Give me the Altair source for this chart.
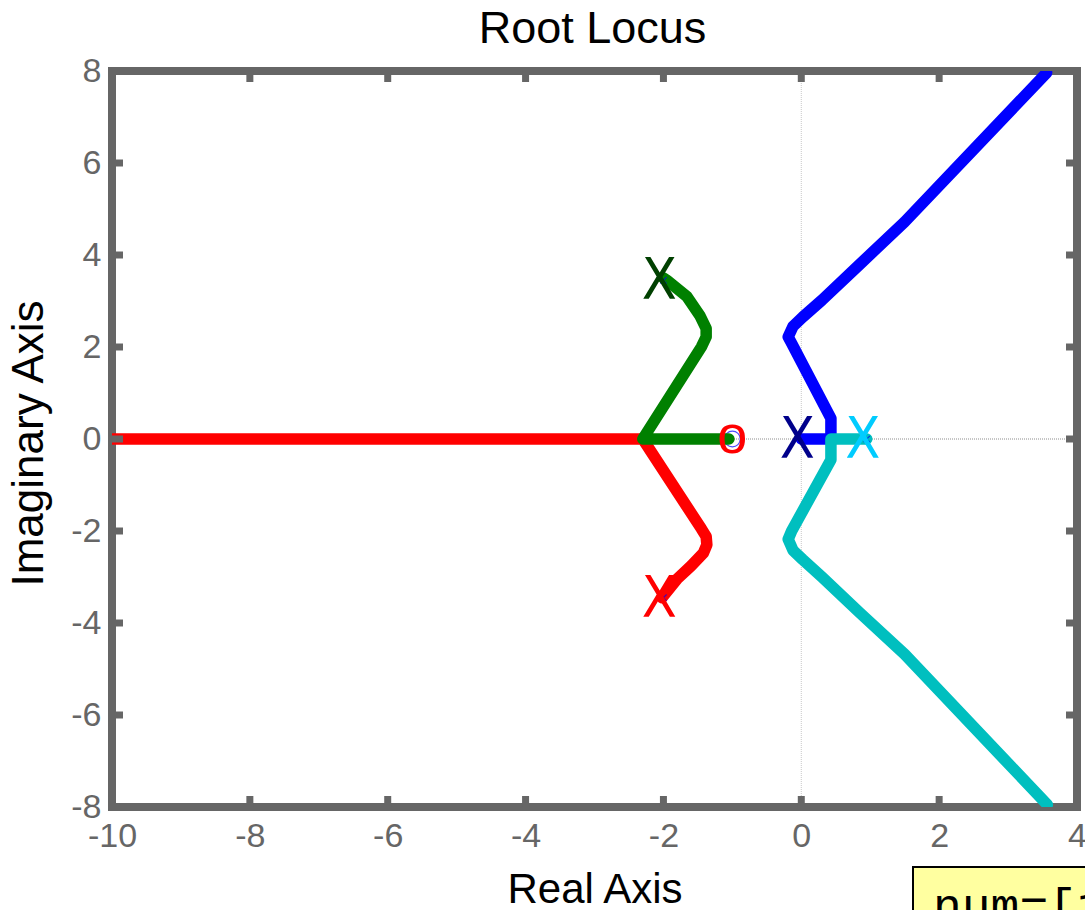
import altair as alt
import pandas as pd

# ---- root-locus branches (real part, imaginary part) ----
red_re = [-2.02, -1.80, -1.60, -1.42, -1.37, -1.38, -1.45, -2.30, -10.0]
red_im = [-3.45, -3.04, -2.76, -2.48, -2.30, -2.12, -1.95, 0.0, 0.0]

green_re = [-2.00, -1.95, -1.66, -1.47, -1.38, -1.38, -1.45, -2.30, -1.05]
green_im = [3.50, 3.45, 3.10, 2.68, 2.40, 2.22, 2.00, 0.0, 0.0]

blue_re = [0.0, 0.43, 0.43, -0.13, -0.19, -0.12, 0.02, 0.30, 0.85, 1.50, 3.56]
blue_im = [0.0, 0.0, 0.45, 2.05, 2.22, 2.45, 2.65, 3.02, 3.80, 4.72, 7.96]

cyan_re = [0.95, 0.43, 0.43, -0.14, -0.19, -0.12, 0.02, 0.30, 0.85, 1.50, 3.57]
cyan_im = [0.0, 0.0, -0.45, -2.00, -2.18, -2.42, -2.62, -3.00, -3.78, -4.68, -7.95]

branch_names = ["b1", "b2", "b3", "b4"]
branch_colors = ["#ff0000", "#008000", "#0000ff", "#00bfbf"]

# ---- open-loop poles and zero ----
pole_re = [-2.0, -2.0, 0.0, 0.95]
pole_im = [3.45, -3.45, 0.0, 0.0]
pole_colors = ["#004000", "#ff0000", "#00008b", "#00ccff"]
zero_re = [-1.0]
zero_im = [0.0]

# ---- axes ----
x_ticks = [-10, -8, -6, -4, -2, 0, 2, 4]
y_ticks = [-8, -6, -4, -2, 0, 2, 4, 6, 8]
x_inner = [-8, -6, -4, -2, 0, 2]
y_inner = [-6, -4, -2, 0, 2, 4, 6]

title_text = ["Root Locus"]
note_text = ["num=[1 1];"]

W, H = 965, 736
FONT = "Liberation Sans"
GRAY = "#666666"

rows = []
for name, re_, im_ in zip(branch_names, [red_re, green_re, blue_re, cyan_re],
                          [red_im, green_im, blue_im, cyan_im]):
    for i, (a, b) in enumerate(zip(re_, im_)):
        rows.append({"branch": name, "i": i, "re": a, "im": b})
locus = pd.DataFrame(rows)
poles = pd.DataFrame({"re": pole_re, "im": pole_im, "c": pole_colors})
zeros = pd.DataFrame({"re": zero_re, "im": zero_im})

xs = alt.Scale(domain=[-10, 4], nice=False, zero=False)
ys = alt.Scale(domain=[-8, 8], nice=False, zero=False)

# plain hyphen-minus in tick labels
plain_label = "'' + datum.value"

x_axis = alt.Axis(values=x_ticks, title="Real Axis", domain=False, ticks=False, grid=False,
                  labelExpr=plain_label,
                  labelFont=FONT, labelFontSize=34, labelColor=GRAY, labelPadding=12,
                  labelFlush=False, labelOverlap=False, labelBound=False,
                  titleFont=FONT, titleFontSize=42, titleFontWeight="normal", titleColor="black",
                  titleX=W / 2, titleY=95, titleBaseline="alphabetic", titleAlign="center")
y_axis = alt.Axis(values=y_ticks, title="Imaginary Axis", domain=False, ticks=False, grid=False,
                  labelExpr=plain_label,
                  labelFont=FONT, labelFontSize=34, labelColor=GRAY, labelPadding=11,
                  labelFlush=False, labelOverlap=False, labelBound=False,
                  titleFont=FONT, titleFontSize=44, titleFontWeight="normal", titleColor="black",
                  titleX=-70, titleY=372, titleAngle=270, titleBaseline="alphabetic",
                  titleAlign="center")


def X(field):
    return alt.X(field, type="quantitative", scale=xs, axis=x_axis)


def Y(field):
    return alt.Y(field, type="quantitative", scale=ys, axis=y_axis)


# zero reference lines
hline = alt.Chart(pd.DataFrame({"im": [0.0]})).mark_rule(
    color="#8c8c8c", strokeWidth=1, strokeDash=[1, 1]).encode(y=Y("im"))
vline = alt.Chart(pd.DataFrame({"re": [0.0]})).mark_rule(
    color="#c8c8c8", strokeWidth=1, strokeDash=[1, 1]).encode(x=X("re"))

zero_circle = alt.Chart(zeros).mark_point(
    shape="circle", filled=False, color="#0000ff", size=250, strokeWidth=1.2).encode(
    x=X("re"), y=Y("im"))

lines = alt.Chart(locus).mark_line(
    strokeWidth=11.5, strokeCap="round", strokeJoin="round", clip=True).encode(
    x=X("re"), y=Y("im"), order="i:Q",
    color=alt.Color("branch:N", scale=alt.Scale(domain=branch_names, range=branch_colors),
                    legend=None))

pole_marks = alt.Chart(poles).mark_point(
    shape="M-1,-1L1,1M1,-1L-1,1", filled=False, color="#0000ff", size=40,
    strokeWidth=1.2).encode(x=X("re"), y=Y("im"))

pole_text = alt.Chart(poles).mark_text(
    text="X", fontSize=57, align="center", baseline="middle",
    font="Liberation Sans Narrow, Arial Narrow, DejaVu Sans Condensed, Liberation Sans",
    dx=-4, dy=2).encode(
    x=X("re"), y=Y("im"), color=alt.Color("c:N", scale=None))

zero_text = alt.Chart(zeros).mark_text(
    text="o", fontSize=54, align="center", baseline="middle", font=FONT,
    color="#ff0000", dy=-2).encode(x=X("re"), y=Y("im"))

# inward tick marks on all four sides
tick_x = pd.DataFrame({"re": x_inner})
tick_y = pd.DataFrame({"im": y_inner})
bottom_ticks = alt.Chart(tick_x).mark_rule(color=GRAY, strokeWidth=7).encode(
    x=X("re"), y=alt.value(H), y2=alt.value(H - 11))
top_ticks = alt.Chart(tick_x).mark_rule(color=GRAY, strokeWidth=7).encode(
    x=X("re"), y=alt.value(0), y2=alt.value(11))
left_ticks = alt.Chart(tick_y).mark_rule(color=GRAY, strokeWidth=7).encode(
    y=Y("im"), x=alt.value(0), x2=alt.value(11))
right_ticks = alt.Chart(tick_y).mark_rule(color=GRAY, strokeWidth=7).encode(
    y=Y("im"), x=alt.value(W), x2=alt.value(W - 11))

# chart title
title = alt.Chart(pd.DataFrame({"t": title_text})).mark_text(
    font=FONT, fontSize=45, align="center", baseline="alphabetic", color="black").encode(
    x=alt.value(W / 2 - 2), y=alt.value(-28), text="t:N")

# yellow note box below the plot
note = pd.DataFrame({"t": note_text})
note_box = alt.Chart(note).mark_rect(fill="#ffffa0", stroke="black", strokeWidth=2).encode(
    x=alt.value(801), x2=alt.value(1100), y=alt.value(796), y2=alt.value(950))
note_label = alt.Chart(note).mark_text(
    font="Liberation Mono", fontSize=48, align="left", baseline="alphabetic",
    color="black").encode(x=alt.value(821), y=alt.value(851), text="t:N")

chart = alt.layer(
    hline, vline, zero_circle, lines, pole_marks, pole_text, zero_text,
    bottom_ticks, top_ticks, left_ticks, right_ticks, title, note_box, note_label
).properties(
    width=W, height=H,
    background="white",
    autosize=alt.AutoSizeParams(type="none"),
    padding={"left": 112, "top": 71, "right": 8, "bottom": 103},
).configure_view(
    stroke=GRAY, strokeWidth=8
)

chart.save("out.html", embed_options={"renderer": "svg", "actions": False})
